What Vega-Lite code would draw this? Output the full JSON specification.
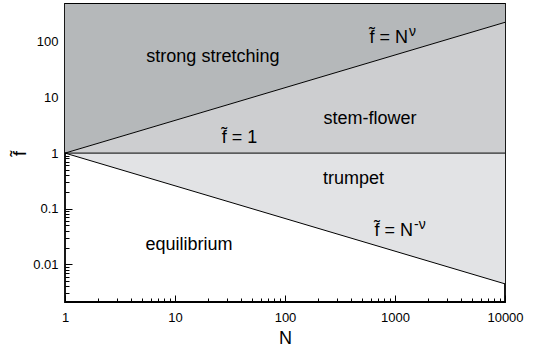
{
  "$schema": "https://vega.github.io/schema/vega-lite/v6.json",
  "width": 440,
  "height": 298,
  "autosize": "none",
  "padding": {"left": 65, "top": 4, "right": 29, "bottom": 48},
  "background": "#ffffff",
  "config": {
    "font": "Liberation Sans",
    "view": {"stroke": "#000000", "strokeWidth": 1.8},
    "axis": {
      "grid": false,
      "domain": false,
      "tickColor": "#000000",
      "tickWidth": 1,
      "labelColor": "#000000",
      "labelFontSize": 13,
      "labelFont": "Liberation Sans",
      "labelOverlap": false,
      "labelFlush": false,
      "titleColor": "#000000",
      "titleFont": "Liberation Sans",
      "titleFontWeight": "normal",
      "titleFontSize": 18
    }
  },
  "datasets": {
    "regions": [
      {"N": 1, "lo": 1, "hi": 480, "region": "strong stretching"},
      {"N": 10000, "lo": 224.9, "hi": 480, "region": "strong stretching"},
      {"N": 1, "lo": 1, "hi": 1, "region": "stem-flower"},
      {"N": 10000, "lo": 1, "hi": 224.9, "region": "stem-flower"},
      {"N": 1, "lo": 1, "hi": 1, "region": "trumpet"},
      {"N": 10000, "lo": 0.00445, "hi": 1, "region": "trumpet"}
    ],
    "boundaries": [
      {"N": 1, "f": 1, "curve": "N^nu"},
      {"N": 10000, "f": 224.9, "curve": "N^nu"},
      {"N": 1, "f": 1, "curve": "one"},
      {"N": 10000, "f": 1, "curve": "one"},
      {"N": 1, "f": 1, "curve": "N^-nu"},
      {"N": 10000, "f": 0.00445, "curve": "N^-nu"}
    ],
    "labels": [
      {"N": 22.1, "f": 43.3, "text": "strong stretching", "part": "name"},
      {"N": 593, "f": 3.32, "text": "stem-flower", "part": "name"},
      {"N": 38.6, "f": 1.51, "text": "f̃ = 1", "part": "name"},
      {"N": 419, "f": 0.277, "text": "trumpet", "part": "name"},
      {"N": 13.4, "f": 0.018, "text": "equilibrium", "part": "name"},
      {"N": 1313, "f": 95, "text": "f̃ = N", "part": "base"},
      {"N": 1458, "f": 0.0321, "text": "f̃ = N", "part": "base"},
      {"N": 1313, "f": 95, "text": "ν", "part": "sup"},
      {"N": 1458, "f": 0.0321, "text": "-ν", "part": "sup"}
    ]
  },
  "layer": [
    {
      "data": {"name": "regions"},
      "mark": {"type": "area", "orient": "vertical", "stroke": null},
      "encoding": {
        "x": {
          "field": "N",
          "type": "quantitative",
          "scale": {"type": "log", "domain": [1, 10000], "nice": false},
          "axis": {
            "title": "N",
            "titleY": 36,
            "titleBaseline": "middle",
            "values": [1, 2, 3, 4, 5, 6, 7, 8, 9, 10, 20, 30, 40, 50, 60, 70, 80, 90, 100, 200, 300, 400, 500, 600, 700, 800, 900, 1000, 2000, 3000, 4000, 5000, 6000, 7000, 8000, 9000, 10000],
            "format": "~g",
            "labelExpr": "abs(log(datum.value)/LN10 - round(log(datum.value)/LN10)) < 1e-6 ? datum.label : ''",
            "tickSize": {"condition": {"test": "abs(log(datum.value)/LN10 - round(log(datum.value)/LN10)) < 1e-6", "value": -7}, "value": -4},
            "labelPadding": 16
          }
        },
        "y": {
          "field": "lo",
          "type": "quantitative",
          "scale": {"type": "log", "domain": [0.0021, 480], "nice": false},
          "axis": {
            "title": "f̃",
            "titleX": -45,
            "titleY": 149,
            "titleBaseline": "middle",
            "values": [0.003, 0.004, 0.005, 0.006, 0.007, 0.008, 0.009, 0.01, 0.02, 0.03, 0.04, 0.05, 0.06, 0.07, 0.08, 0.09, 0.1, 0.2, 0.3, 0.4, 0.5, 0.6, 0.7, 0.8, 0.9, 1, 2, 3, 4, 5, 6, 7, 8, 9, 10, 20, 30, 40, 50, 60, 70, 80, 90, 100, 200, 300, 400],
            "format": "~g",
            "labelExpr": "abs(log(datum.value)/LN10 - round(log(datum.value)/LN10)) < 1e-6 ? datum.label : ''",
            "tickSize": {"condition": {"test": "abs(log(datum.value)/LN10 - round(log(datum.value)/LN10)) < 1e-6", "value": -7}, "value": -4},
            "labelPadding": 14
          }
        },
        "y2": {"field": "hi"},
        "color": {
          "field": "region",
          "type": "nominal",
          "scale": {"domain": ["strong stretching", "stem-flower", "trumpet"], "range": ["#b5b8ba", "#cdced0", "#e2e3e5"]},
          "legend": null
        }
      }
    },
    {
      "data": {"name": "boundaries"},
      "mark": {"type": "line", "color": "#000000", "strokeWidth": 1},
      "encoding": {
        "x": {"field": "N", "type": "quantitative"},
        "y": {"field": "f", "type": "quantitative"},
        "detail": {"field": "curve"}
      }
    },
    {
      "data": {"name": "labels"},
      "transform": [{"filter": "datum.part == 'name'"}],
      "mark": {"type": "text", "align": "center", "baseline": "alphabetic", "fontSize": 18, "color": "#000000"},
      "encoding": {
        "x": {"field": "N", "type": "quantitative"},
        "y": {"field": "f", "type": "quantitative"},
        "text": {"field": "text"}
      }
    },
    {
      "data": {"name": "labels"},
      "transform": [{"filter": "datum.part == 'base'"}],
      "mark": {"type": "text", "align": "right", "baseline": "alphabetic", "fontSize": 18, "color": "#000000"},
      "encoding": {
        "x": {"field": "N", "type": "quantitative"},
        "y": {"field": "f", "type": "quantitative"},
        "text": {"field": "text"}
      }
    },
    {
      "data": {"name": "labels"},
      "transform": [{"filter": "datum.part == 'sup'"}],
      "mark": {"type": "text", "align": "left", "baseline": "alphabetic", "fontSize": 14, "dx": 1, "dy": -7, "color": "#000000"},
      "encoding": {
        "x": {"field": "N", "type": "quantitative"},
        "y": {"field": "f", "type": "quantitative"},
        "text": {"field": "text"}
      }
    }
  ]
}
